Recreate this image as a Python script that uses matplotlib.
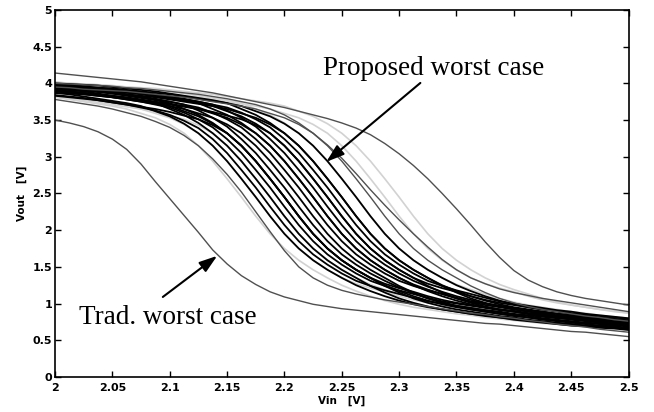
import matplotlib
matplotlib.use('Agg')
import matplotlib.pyplot as plt

# Vin grid (V)
vin = [2.0, 2.0125, 2.025, 2.0375, 2.05, 2.0625, 2.075, 2.0875, 2.1, 2.1125,
       2.125, 2.1375, 2.15, 2.1625, 2.175, 2.1875, 2.2, 2.2125, 2.225, 2.2375,
       2.25, 2.2625, 2.275, 2.2875, 2.3, 2.3125, 2.325, 2.3375, 2.35, 2.3625,
       2.375, 2.3875, 2.4, 2.4125, 2.425, 2.4375, 2.45, 2.4625, 2.475, 2.4875, 2.5]

# outlier curves (dark grey)
curve_top = [4.14, 4.12, 4.10, 4.08, 4.06, 4.04, 4.02, 3.99, 3.96, 3.93,
             3.90, 3.87, 3.83, 3.79, 3.75, 3.71, 3.67, 3.62, 3.57, 3.52,
             3.46, 3.39, 3.30, 3.18, 3.04, 2.88, 2.70, 2.50, 2.29, 2.07,
             1.84, 1.63, 1.45, 1.32, 1.23, 1.16, 1.11, 1.07, 1.04, 1.01, 0.98]
curve_right2 = [4.00, 3.99, 3.98, 3.97, 3.96, 3.94, 3.93, 3.91, 3.89, 3.87,
                3.85, 3.82, 3.79, 3.75, 3.71, 3.65, 3.57, 3.46, 3.32, 3.16,
                2.98, 2.77, 2.55, 2.34, 2.14, 1.95, 1.77, 1.60, 1.46, 1.35,
                1.27, 1.20, 1.15, 1.11, 1.07, 1.04, 1.01, 0.98, 0.95, 0.92, 0.89]
curve_right3 = [3.95, 3.94, 3.92, 3.91, 3.90, 3.89, 3.87, 3.85, 3.83, 3.81,
                3.78, 3.75, 3.72, 3.69, 3.65, 3.59, 3.53, 3.44, 3.32, 3.15,
                2.94, 2.70, 2.45, 2.19, 1.95, 1.75, 1.59, 1.46, 1.35, 1.24,
                1.15, 1.07, 1.01, 0.96, 0.92, 0.89, 0.86, 0.83, 0.81, 0.78, 0.76]
curve_left2 = [3.78, 3.75, 3.72, 3.69, 3.65, 3.60, 3.55, 3.48, 3.40, 3.29,
               3.15, 2.97, 2.76, 2.52, 2.25, 1.98, 1.72, 1.50, 1.35, 1.25,
               1.18, 1.13, 1.09, 1.05, 1.02, 0.99, 0.96, 0.93, 0.90, 0.87,
               0.85, 0.82, 0.80, 0.77, 0.75, 0.72, 0.70, 0.68, 0.65, 0.63, 0.61]
curve_trad = [3.50, 3.46, 3.41, 3.34, 3.24, 3.10, 2.90, 2.66, 2.43, 2.20,
              1.97, 1.73, 1.54, 1.38, 1.26, 1.16, 1.09, 1.04, 0.99, 0.96,
              0.93, 0.91, 0.89, 0.87, 0.85, 0.83, 0.81, 0.79, 0.77, 0.75,
              0.73, 0.72, 0.70, 0.68, 0.66, 0.64, 0.62, 0.61, 0.59, 0.57, 0.55]

# main Monte Carlo bundle (black)
b1 = [3.87, 3.85, 3.82, 3.79, 3.76, 3.73, 3.69, 3.62, 3.55, 3.45, 3.32, 3.15, 2.94, 2.70, 2.45, 2.19, 1.95, 1.75, 1.59, 1.46,
      1.35, 1.25, 1.17, 1.10, 1.04, 0.99, 0.95, 0.92, 0.89, 0.86, 0.84, 0.81, 0.79, 0.77, 0.75, 0.73, 0.72, 0.70, 0.69, 0.67, 0.66]
b2 = [3.93, 3.91, 3.89, 3.86, 3.83, 3.80, 3.77, 3.73, 3.65, 3.57, 3.46, 3.32, 3.15, 2.94, 2.70, 2.45, 2.19, 1.95, 1.75, 1.59,
      1.46, 1.35, 1.24, 1.15, 1.07, 1.01, 0.96, 0.92, 0.89, 0.86, 0.83, 0.81, 0.78, 0.76, 0.74, 0.72, 0.70, 0.69, 0.67, 0.66, 0.64]
b3 = [3.83, 3.81, 3.79, 3.77, 3.74, 3.71, 3.68, 3.65, 3.61, 3.56, 3.51, 3.43, 3.32, 3.15, 2.94, 2.70, 2.45, 2.19, 1.95, 1.75,
      1.59, 1.46, 1.35, 1.27, 1.21, 1.16, 1.10, 1.05, 1.01, 0.98, 0.95, 0.92, 0.90, 0.87, 0.85, 0.83, 0.81, 0.79, 0.78, 0.76, 0.75]
b4 = [3.95, 3.93, 3.91, 3.89, 3.86, 3.83, 3.80, 3.77, 3.73, 3.65, 3.57, 3.46, 3.32, 3.15, 2.94, 2.70, 2.45, 2.19, 1.95, 1.75,
      1.59, 1.46, 1.35, 1.25, 1.17, 1.10, 1.04, 0.99, 0.95, 0.92, 0.89, 0.86, 0.84, 0.81, 0.79, 0.77, 0.75, 0.73, 0.72, 0.70, 0.69]
b5 = [3.89, 3.87, 3.85, 3.83, 3.81, 3.78, 3.75, 3.72, 3.69, 3.65, 3.59, 3.53, 3.44, 3.32, 3.15, 2.94, 2.70, 2.45, 2.19, 1.95,
      1.75, 1.59, 1.46, 1.35, 1.24, 1.15, 1.07, 1.01, 0.96, 0.92, 0.89, 0.86, 0.83, 0.81, 0.78, 0.76, 0.74, 0.72, 0.70, 0.69, 0.67]
b6 = [3.98, 3.97, 3.95, 3.93, 3.91, 3.89, 3.86, 3.83, 3.80, 3.77, 3.73, 3.65, 3.57, 3.46, 3.32, 3.15, 2.94, 2.70, 2.45, 2.19,
      1.95, 1.75, 1.59, 1.46, 1.35, 1.26, 1.19, 1.13, 1.07, 1.02, 0.98, 0.95, 0.92, 0.89, 0.87, 0.84, 0.82, 0.80, 0.78, 0.76, 0.75]
b7 = [3.90, 3.89, 3.87, 3.85, 3.83, 3.81, 3.78, 3.75, 3.72, 3.69, 3.65, 3.59, 3.53, 3.44, 3.32, 3.15, 2.94, 2.70, 2.45, 2.19,
      1.95, 1.75, 1.59, 1.46, 1.35, 1.25, 1.17, 1.10, 1.04, 0.99, 0.95, 0.92, 0.89, 0.86, 0.84, 0.81, 0.79, 0.77, 0.75, 0.73, 0.72]
b8 = [3.95, 3.94, 3.93, 3.91, 3.89, 3.87, 3.85, 3.82, 3.79, 3.76, 3.73, 3.69, 3.62, 3.55, 3.45, 3.32, 3.15, 2.94, 2.70, 2.45,
      2.19, 1.95, 1.75, 1.59, 1.46, 1.35, 1.24, 1.15, 1.07, 1.01, 0.96, 0.92, 0.89, 0.86, 0.83, 0.81, 0.78, 0.76, 0.74, 0.72, 0.70]
b9 = [3.87, 3.86, 3.85, 3.83, 3.81, 3.79, 3.77, 3.74, 3.71, 3.68, 3.65, 3.61, 3.56, 3.51, 3.43, 3.32, 3.15, 2.94, 2.70, 2.45,
      2.19, 1.95, 1.75, 1.59, 1.46, 1.35, 1.27, 1.21, 1.16, 1.10, 1.05, 1.01, 0.98, 0.95, 0.92, 0.90, 0.87, 0.85, 0.83, 0.81, 0.79]
b10 = [4.00, 3.99, 3.98, 3.97, 3.95, 3.93, 3.91, 3.89, 3.86, 3.83, 3.80, 3.77, 3.73, 3.65, 3.57, 3.46, 3.32, 3.15, 2.94, 2.70,
       2.45, 2.19, 1.95, 1.75, 1.59, 1.46, 1.35, 1.25, 1.17, 1.10, 1.04, 0.99, 0.95, 0.92, 0.89, 0.86, 0.84, 0.81, 0.79, 0.77, 0.75]
b11 = [3.92, 3.91, 3.90, 3.89, 3.87, 3.85, 3.83, 3.81, 3.78, 3.75, 3.72, 3.69, 3.65, 3.59, 3.53, 3.44, 3.32, 3.15, 2.94, 2.70,
       2.45, 2.19, 1.95, 1.75, 1.59, 1.46, 1.35, 1.24, 1.15, 1.07, 1.01, 0.96, 0.92, 0.89, 0.86, 0.83, 0.81, 0.78, 0.76, 0.74, 0.72]
b12 = [3.98, 3.96, 3.95, 3.94, 3.93, 3.91, 3.89, 3.87, 3.85, 3.82, 3.79, 3.76, 3.73, 3.69, 3.62, 3.55, 3.45, 3.32, 3.15, 2.94,
       2.70, 2.45, 2.19, 1.95, 1.75, 1.59, 1.46, 1.35, 1.25, 1.17, 1.10, 1.04, 0.99, 0.95, 0.92, 0.89, 0.86, 0.84, 0.81, 0.79, 0.77]
b13 = [3.84, 3.82, 3.80, 3.77, 3.74, 3.71, 3.67, 3.63, 3.57, 3.49, 3.39, 3.24, 3.05, 2.82, 2.58, 2.32, 2.07, 1.85, 1.67, 1.53,
       1.41, 1.31, 1.24, 1.18, 1.13, 1.08, 1.03, 1.00, 0.97, 0.94, 0.91, 0.89, 0.86, 0.84, 0.82, 0.80, 0.79, 0.77, 0.76, 0.74, 0.73]
b14 = [3.90, 3.88, 3.86, 3.84, 3.81, 3.78, 3.75, 3.71, 3.67, 3.60, 3.51, 3.40, 3.24, 3.05, 2.82, 2.58, 2.32, 2.07, 1.85, 1.67,
       1.53, 1.41, 1.31, 1.24, 1.18, 1.13, 1.08, 1.03, 1.00, 0.97, 0.94, 0.91, 0.89, 0.86, 0.84, 0.82, 0.80, 0.79, 0.77, 0.76, 0.74]
b15 = [3.96, 3.94, 3.92, 3.90, 3.88, 3.85, 3.82, 3.79, 3.75, 3.71, 3.63, 3.53, 3.41, 3.24, 3.05, 2.82, 2.58, 2.32, 2.07, 1.85,
       1.67, 1.53, 1.41, 1.31, 1.22, 1.14, 1.07, 1.02, 0.97, 0.94, 0.91, 0.88, 0.85, 0.83, 0.80, 0.78, 0.76, 0.74, 0.73, 0.71, 0.70]
b16 = [3.94, 3.92, 3.90, 3.88, 3.86, 3.84, 3.81, 3.78, 3.75, 3.71, 3.67, 3.60, 3.51, 3.40, 3.24, 3.05, 2.82, 2.58, 2.32, 2.07,
       1.85, 1.67, 1.53, 1.41, 1.31, 1.24, 1.18, 1.13, 1.08, 1.03, 1.00, 0.97, 0.94, 0.91, 0.89, 0.86, 0.84, 0.82, 0.80, 0.79, 0.77]
b17 = [3.99, 3.98, 3.96, 3.94, 3.92, 3.90, 3.88, 3.85, 3.82, 3.79, 3.75, 3.71, 3.63, 3.53, 3.41, 3.24, 3.05, 2.82, 2.58, 2.32,
       2.07, 1.85, 1.67, 1.53, 1.41, 1.31, 1.23, 1.16, 1.10, 1.05, 1.00, 0.97, 0.94, 0.91, 0.88, 0.86, 0.83, 0.81, 0.79, 0.77, 0.76]
b18 = [3.96, 3.95, 3.94, 3.92, 3.90, 3.88, 3.86, 3.84, 3.81, 3.78, 3.75, 3.71, 3.67, 3.60, 3.51, 3.40, 3.24, 3.05, 2.82, 2.58,
       2.32, 2.07, 1.85, 1.67, 1.53, 1.41, 1.31, 1.24, 1.18, 1.13, 1.08, 1.03, 1.00, 0.97, 0.94, 0.91, 0.89, 0.86, 0.84, 0.82, 0.80]
b19 = [3.91, 3.89, 3.87, 3.85, 3.82, 3.79, 3.76, 3.73, 3.69, 3.62, 3.55, 3.45, 3.32, 3.15, 2.94, 2.70, 2.45, 2.19, 1.95, 1.75,
       1.59, 1.46, 1.35, 1.24, 1.15, 1.07, 1.01, 0.96, 0.92, 0.89, 0.86, 0.83, 0.81, 0.78, 0.76, 0.74, 0.72, 0.70, 0.69, 0.67, 0.66]

# faint curves around the bundle (light grey)
g1 = [3.81, 3.78, 3.75, 3.72, 3.69, 3.65, 3.59, 3.53, 3.44, 3.32, 3.15, 2.94, 2.70, 2.45, 2.19, 1.95, 1.75, 1.59, 1.46, 1.35,
      1.25, 1.17, 1.10, 1.04, 0.99, 0.95, 0.92, 0.89, 0.86, 0.84, 0.81, 0.79, 0.77, 0.75, 0.73, 0.72, 0.70, 0.69, 0.67, 0.66, 0.64]
g2 = [3.81, 3.79, 3.77, 3.74, 3.71, 3.68, 3.65, 3.61, 3.56, 3.51, 3.43, 3.32, 3.15, 2.94, 2.70, 2.45, 2.19, 1.95, 1.75, 1.59,
      1.46, 1.35, 1.26, 1.19, 1.13, 1.07, 1.02, 0.98, 0.95, 0.92, 0.89, 0.87, 0.84, 0.82, 0.80, 0.78, 0.76, 0.75, 0.73, 0.72, 0.70]
g3 = [4.02, 4.00, 3.99, 3.98, 3.97, 3.95, 3.93, 3.91, 3.89, 3.86, 3.83, 3.80, 3.77, 3.73, 3.65, 3.57, 3.46, 3.32, 3.15, 2.94,
      2.70, 2.45, 2.19, 1.95, 1.75, 1.59, 1.46, 1.35, 1.26, 1.19, 1.13, 1.07, 1.02, 0.98, 0.95, 0.92, 0.89, 0.87, 0.84, 0.82, 0.80]
g4 = [3.96, 3.95, 3.94, 3.92, 3.91, 3.90, 3.89, 3.87, 3.85, 3.83, 3.81, 3.78, 3.75, 3.72, 3.69, 3.65, 3.59, 3.53, 3.44, 3.32,
      3.15, 2.94, 2.70, 2.45, 2.19, 1.95, 1.75, 1.59, 1.46, 1.35, 1.27, 1.21, 1.16, 1.10, 1.05, 1.01, 0.98, 0.95, 0.92, 0.90, 0.87]
g5 = [4.01, 4.00, 3.99, 3.98, 3.96, 3.95, 3.94, 3.93, 3.91, 3.89, 3.87, 3.85, 3.82, 3.79, 3.76, 3.73, 3.69, 3.62, 3.55, 3.45,
      3.32, 3.15, 2.94, 2.70, 2.45, 2.19, 1.95, 1.75, 1.59, 1.46, 1.35, 1.26, 1.19, 1.13, 1.07, 1.02, 0.98, 0.95, 0.92, 0.89, 0.87]
g6 = [3.83, 3.81, 3.78, 3.75, 3.72, 3.69, 3.65, 3.59, 3.53, 3.44, 3.32, 3.15, 2.94, 2.70, 2.45, 2.19, 1.95, 1.75, 1.59, 1.46,
      1.35, 1.27, 1.21, 1.16, 1.10, 1.05, 1.01, 0.98, 0.95, 0.92, 0.90, 0.87, 0.85, 0.83, 0.81, 0.79, 0.78, 0.76, 0.75, 0.73, 0.72]

xticks = [2.0, 2.05, 2.1, 2.15, 2.2, 2.25, 2.3, 2.35, 2.4, 2.45, 2.5]
xticklabels = ['2', '2.05', '2.1', '2.15', '2.2', '2.25', '2.3', '2.35', '2.4', '2.45', '2.5']
yticks = [0, 0.5, 1, 1.5, 2, 2.5, 3, 3.5, 4, 4.5, 5]
yticklabels = ['0', '0.5', '1', '1.5', '2', '2.5', '3', '3.5', '4', '4.5', '5']

fig = plt.figure(figsize=(6.54, 4.12), dpi=100)
ax = fig.add_axes([0.0841, 0.085, 0.877, 0.891])

for c in [g1, g2, g3, g4, g5, g6]:
    ax.plot(vin, c, color='#d2d2d2', lw=1.2)
bundle = [b1, b2, b3, b4, b5, b6, b7, b8, b9, b10, b11, b12, b13, b14, b15,
          b16, b17, b18, b19]
for c in bundle:
    ax.plot(vin, c, color='black', lw=1.3)
for c in [curve_top, curve_right2, curve_right3, curve_left2, curve_trad]:
    ax.plot(vin, c, color='#505050', lw=1.0)

ax.set_xlim(2.0, 2.5)
ax.set_ylim(0, 5)
ax.set_xticks(xticks)
ax.set_xticklabels(xticklabels)
ax.set_yticks(yticks)
ax.set_yticklabels(yticklabels)
ax.tick_params(direction='in', top=True, right=True, length=4, width=1.0,
               labelsize=8)
ax.tick_params(axis='x', pad=4)
ax.tick_params(axis='y', pad=2)
for lab in ax.get_xticklabels() + ax.get_yticklabels():
    lab.set_fontweight('bold')
for s in ax.spines.values():
    s.set_linewidth(1.2)

ax.set_xlabel('Vin   [V]', fontsize=7.5, fontweight='bold', labelpad=2)
ax.set_ylabel('Vout   [V]', fontsize=7.5, fontweight='bold', labelpad=4)

arrow = dict(arrowstyle='-|>,head_length=0.9,head_width=0.3', mutation_scale=12,
             lw=1.5, color='black', shrinkA=0, shrinkB=0)
ax.annotate('', xy=(2.2365, 2.93), xytext=(2.3185, 4.005), arrowprops=arrow)
ax.annotate('', xy=(2.1414, 1.65), xytext=(2.094, 1.09), arrowprops=arrow)
ax.text(2.234, 4.11, 'Proposed worst case', family='Liberation Serif', fontsize=19.5)
ax.text(2.021, 0.72, 'Trad. worst case', family='Liberation Serif', fontsize=19.5)

fig.savefig('out.png', dpi=100)
